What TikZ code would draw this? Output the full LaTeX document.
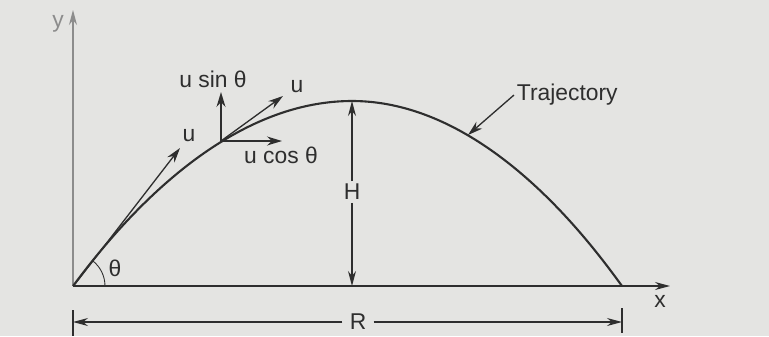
\documentclass[tikz,border=0pt]{standalone}
\usepackage{fontspec}
\setmainfont{Liberation Sans}
\usetikzlibrary{arrows.meta, positioning}
\definecolor{inkgray}{HTML}{2E2E2E}
\definecolor{axisgray}{HTML}{8C8C8C}
\definecolor{papergray}{HTML}{E4E4E2}

\begin{document}
\begin{tikzpicture}[
  x=0.02cm, y=-0.02cm,
  lbl/.style={font=\fontsize{13}{15}\selectfont, text=inkgray, inner sep=1.5pt},
  vec/.style={-{Stealth[length=3mm, width=1.8mm]}, line width=0.75pt, draw=inkgray},
  axisline/.style={-{Stealth[length=3mm, width=1.6mm]}, line width=0.6pt},
  dimline/.style={-{Stealth[length=3mm, width=1.6mm]}, line width=0.6pt, draw=inkgray}
]
\fill[papergray] (0,0) rectangle (769,336);
\useasboundingbox (0,0) rectangle (769,336);

\coordinate (O) at (73,286);
\coordinate (top) at (352,101);
\coordinate (E) at (622,286);
\coordinate (P) at (221,141);

% axes
\draw[axisline, draw=axisgray] (O) -- (73,10) coordinate (ytip);
\draw[axisline, draw=inkgray] (O) -- (670,286) coordinate (xtip);
\node[lbl, text=axisgray] (ylab) at (58,24) {y};
\node[lbl] (xlab) at (660,301) {x};

% path of the projectile
\draw[inkgray, line width=1.2pt] (O) parabola bend (top) (E);

% angle of projection
\draw[inkgray, line width=0.5pt] (105,286) arc[start angle=0, end angle=-53, radius=32];
\node[lbl] (th) at (115,268) {θ};

% velocity at launch
\coordinate (u1tip) at (180,148);
\draw[vec] (75,284) -- (u1tip);
\node[lbl] (u1) at (189,136) {u};

% velocity and components at P
\coordinate (u2tip) at (283,96);
\coordinate (stip) at (221,92);
\coordinate (ctip) at (282,141);
\draw[vec] (P) -- (u2tip);
\draw[vec] (P) -- (stip);
\draw[vec] (P) -- (ctip);
\node[lbl] (u2) at (297,87) {u};
\node[lbl] (usin) at (213,79) {u sin θ};
\node[lbl] (ucos) at (281,155) {u cos θ};

% maximum height
\node[lbl] (H) at (352,192) {H};
\draw[dimline] (H) -- (top);
\draw[dimline] (H) -- (top |- O);

% range
\node[lbl, inner sep=4pt] (R) at (358,322) {R};
\draw[dimline] (R) -- (O |- R);
\draw[dimline] (R) -- (E |- R);
\draw[inkgray, line width=0.6pt] (73,310) -- (73,336);
\draw[inkgray, line width=0.6pt] (622,308) -- (622,333);

% label for the curve
\node[lbl, anchor=west] (traj) at (514,95) {Trajectory};
\draw[vec] (traj.west) -- (468,135);
\end{tikzpicture}
\end{document}
